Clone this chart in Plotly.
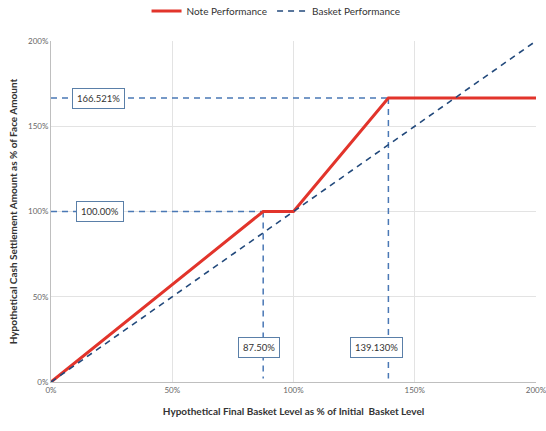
import plotly.graph_objects as go

note_x = [0, 87.5, 100, 139.13, 200]
note_y = [0, 100, 100, 166.521, 166.521]
basket_x = [0, 200]
basket_y = [0, 200]
ticks = [0, 50, 100, 150, 200]
tick_text = ["0%", "50%", "100%", "150%", "200%"]

# reference (guide) lines
cap_level = 166.521
cap_x = 139.13
floor_x = 87.5
floor_level = 100
guide_bottom = 2

label_cap = "166.521%"
label_floor = "100.00%"
label_floor_x = "87.50%"
label_cap_x = "139.130%"

FONT = "Lato, 'Open Sans', sans-serif"
GUIDE = "#4A78B5"

fig = go.Figure()

for gx, gy in [([0, cap_x], [cap_level, cap_level]),
               ([0, floor_x], [floor_level, floor_level]),
               ([floor_x, floor_x], [floor_level, guide_bottom]),
               ([cap_x, cap_x], [cap_level, guide_bottom])]:
    fig.add_trace(go.Scatter(x=gx, y=gy, mode="lines",
                             line=dict(color=GUIDE, width=1.5, dash="6px,5px"),
                             showlegend=False, hoverinfo="skip", cliponaxis=False))

fig.add_trace(go.Scatter(x=note_x, y=note_y, mode="lines", name="Note Performance",
                         line=dict(color="#E2342B", width=3)))
fig.add_trace(go.Scatter(x=basket_x, y=basket_y, mode="lines", name="Basket Performance",
                         line=dict(color="#234A7C", width=1.6, dash="6px,5px")))

def box(x, y, text):
    fig.add_annotation(x=x, y=y, text=text, showarrow=False,
                       font=dict(family=FONT, size=9.5, color="#333333"),
                       bgcolor="white", bordercolor="#5A7FA8", borderwidth=1,
                       borderpad=4)

box(19.5, cap_level, label_cap)
box(20.0, floor_level, label_floor)
box(85.8, 20, label_floor_x)
box(134.2, 20, label_cap_x)

fig.update_layout(
    width=546, height=431,
    margin=dict(l=51, r=10, t=41, b=49, autoexpand=False),
    paper_bgcolor="white", plot_bgcolor="white",
    font=dict(family=FONT, color="#333333"),
    legend=dict(orientation="h", x=0.464, xanchor="center", y=1.088, yanchor="middle",
                font=dict(size=10, color="#333333"), itemwidth=30, tracegroupgap=0),
    xaxis=dict(range=[0, 200], tickvals=ticks, ticktext=tick_text, automargin=False,
               ticklabeloverflow="allow",
               showgrid=True, gridcolor="#E3E3E3", gridwidth=1,
               showline=True, linecolor="#BFBFBF", linewidth=1,
               zeroline=False, ticks="", tickfont=dict(size=8, color="#666666"),
               title=dict(text="<b>Hypothetical Final Basket Level as % of Initial  Basket Level</b>",
                          font=dict(size=10, color="#333333"), standoff=14)),
    yaxis=dict(range=[0, 200], tickvals=ticks, ticktext=tick_text, automargin=False,
               ticklabeloverflow="allow",
               showgrid=True, gridcolor="#E3E3E3", gridwidth=1,
               showline=True, linecolor="#BFBFBF", linewidth=1,
               zeroline=False, ticks="", tickfont=dict(size=8, color="#666666"),
               title=dict(text="<b>Hypothetical Cash Settlement Amount as % of Face Amount</b>",
                          font=dict(size=10, color="#333333"), standoff=8)),
)

# remove the default 8px page margin so the figure fills the window exactly
fig.write_html("out.html", config={"displayModeBar": False},
               post_script="document.body.style.margin='0px';")
